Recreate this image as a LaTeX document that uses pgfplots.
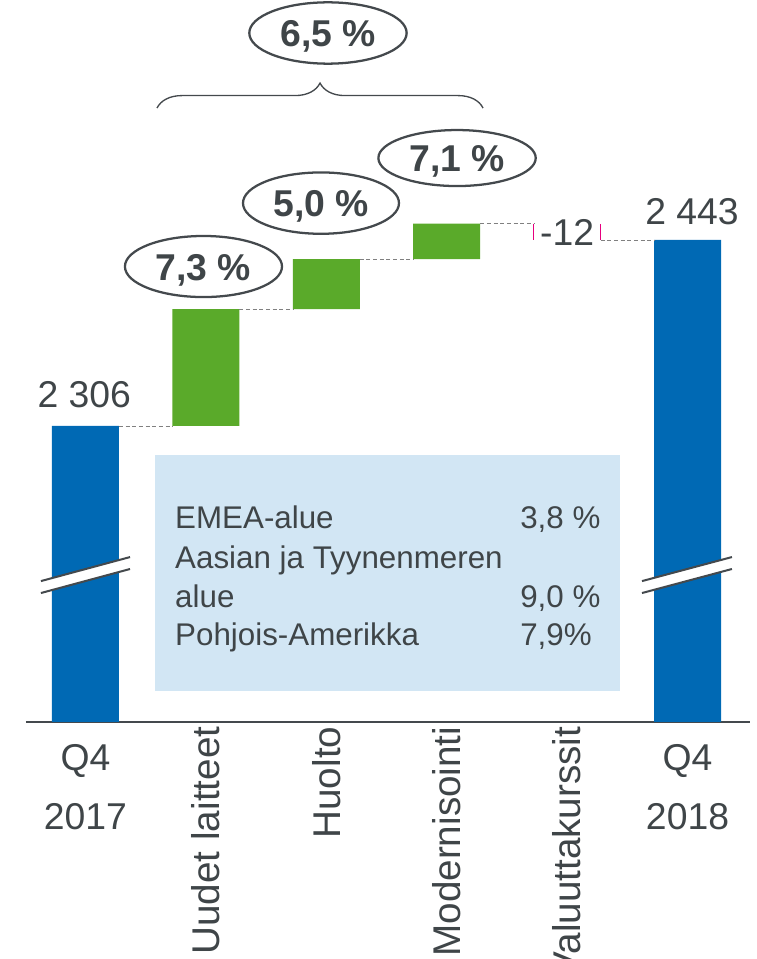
\documentclass[border=0pt]{standalone}
\usepackage{fontspec}
\setmainfont{Liberation Sans}
\usepackage{graphicx}
\usepackage{pgfplots}
\pgfplotsset{compat=1.18}
\usetikzlibrary{decorations.pathreplacing}

\definecolor{kblue}{HTML}{0069B4}
\definecolor{kgreen}{HTML}{5AAA2A}
\definecolor{kbox}{HTML}{D2E6F4}
\definecolor{ktext}{HTML}{3F4548}
\definecolor{kpink}{HTML}{E6007E}
\definecolor{kline}{HTML}{44494D}

\tikzset{
    valtxt/.style={anchor=base, inner sep=0, text=ktext, font=\fontsize{28}{30}\selectfont},
    boxtxt/.style={anchor=base west, inner sep=0, text=ktext, font=\fontsize{23.5}{28}\selectfont},
    bubtxt/.style={anchor=base, inner sep=0, text=ktext, font=\bfseries\fontsize{28}{30}\selectfont},
}
\newcommand{\rot}[1]{\rotatebox{90}{\fontsize{29}{30}\selectfont #1}}

\begin{document}
\begin{tikzpicture}
\begin{axis}[
    name=ax,
    scale only axis,
    width=543pt, height=541.5pt,
    xmin=-0.494, xmax=5.519,
    ymin=2088, ymax=2619.8,
    ybar stacked,
    bar width=50.25pt,
    axis x line*=bottom,
    axis y line=none,
    x axis line style={draw=kline, line width=1.5pt, -},
    xtick={0,...,5},
    major tick length=0pt,
    xticklabels={
        {\rule{0pt}{33pt}Q4\\[4pt]2017},
        \rot{Uudet laitteet},
        \rot{Huolto},
        \rot{Modernisointi},
        \rot{Valuuttakurssit},
        {\rule{0pt}{33pt}Q4\\[4pt]2018}},
    xticklabel style={font=\fontsize{28}{39.75}\selectfont, text=ktext, align=center},
]
% waterfall: invisible base, then the visible parts
\addplot[draw=none, fill=none] coordinates {(0,0) (1,2306) (2,2392) (3,2429) (4,2443) (5,0)};
\addplot[draw=none, fill=kblue] coordinates {(0,2306) (1,0) (2,0) (3,0) (4,0) (5,2443)};
\addplot[draw=none, fill=kgreen] coordinates {(0,0) (1,86) (2,37) (3,26) (4,0) (5,0)};
\addplot[draw=none, fill=none] coordinates {(0,0) (1,0) (2,0) (3,0) (4,12) (5,0)};
\end{axis}

% annotations in the axis' data units (x: 90.3043pt, y: 1.01824pt per unit)
\begin{scope}[shift={(ax.south west)}, xshift=44.610pt, yshift=-2126.085pt, x=90.3043pt, y=1.01824pt]
% connectors
\draw[gray, line width=0.75pt, dash pattern=on 3pt off 2pt]
    (0.278,2306) -- (0.722,2306)
    (1.278,2392) -- (1.722,2392)
    (2.278,2429) -- (2.722,2429)
    (3.278,2455) -- (3.722,2455)
    (4.278,2443) -- (4.722,2443);
\draw[kpink, line width=0.9pt]
    (3.722,2455) -- (3.722,2443)
    (4.278,2455) -- (4.278,2443);

% value labels
\node[valtxt] at (-0.01,2320) {2 306};
\node[valtxt] at (5.037,2454.8) {2 443};
\node[valtxt] at (4.0,2439.3) {-12};

% regional box
\fill[kbox] (0.577,2110.8) rectangle (4.439,2284.6);
\node[boxtxt] at (0.743,2230.9) {EMEA-alue};
\node[boxtxt] at (0.743,2201.4) {Aasian ja Tyynenmeren};
\node[boxtxt] at (0.743,2172.7) {alue};
\node[boxtxt] at (0.743,2144.7) {Pohjois-Amerikka};
\node[boxtxt] at (3.609,2230.9) {3,8 \%};
\node[boxtxt] at (3.609,2172.7) {9,0 \%};
\node[boxtxt] at (3.609,2144.7) {7,9\%};

% axis break marks
\fill[white] (-0.370,2191.8) -- (0.370,2209.5) -- (0.370,2200.7) -- (-0.370,2183.0) -- cycle;
\draw[kline, line width=1.5pt] (-0.370,2191.8) -- (0.370,2209.5);
\draw[kline, line width=1.5pt] (-0.370,2183.0) -- (0.370,2200.7);
\fill[white] (4.622,2191.8) -- (5.369,2209.5) -- (5.369,2200.7) -- (4.622,2183.0) -- cycle;
\draw[kline, line width=1.5pt] (4.622,2191.8) -- (5.369,2209.5);
\draw[kline, line width=1.5pt] (4.622,2183.0) -- (5.369,2200.7);

% growth bubbles
\draw[kline, line width=1.7pt] (0.980,2423.5) ellipse [x radius=58.9pt, y radius=22.9pt];
\draw[kline, line width=1.7pt] (1.956,2470.2) ellipse [x radius=58.5pt, y radius=23pt];
\draw[kline, line width=1.7pt] (3.086,2503.4) ellipse [x radius=59pt, y radius=21pt];
\draw[kline, line width=1.7pt] (2.014,2595.5) ellipse [x radius=59pt, y radius=23pt];
\node[bubtxt] at (0.980,2413.5) {7,3 \%};
\node[bubtxt] at (1.956,2460.3) {5,0 \%};
\node[bubtxt] at (3.086,2493.5) {7,1 \%};
\node[bubtxt] at (2.014,2585.6) {6,5 \%};
\draw[kline, line width=1pt, decorate, decoration={brace, amplitude=18.75pt}]
    (0.594,2540.2) -- (3.302,2540.2);
\end{scope}

\pgfresetboundingbox
\path[use as bounding box] ([xshift=-19.5pt,yshift=-177.75pt]ax.south west) rectangle ([xshift=4.5pt]ax.north east);
\end{tikzpicture}
\end{document}
